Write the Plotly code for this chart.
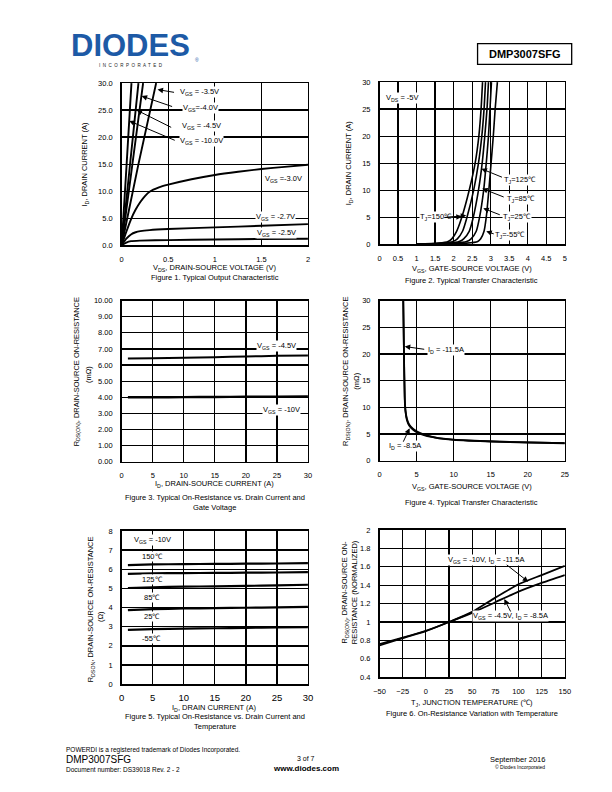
import plotly.graph_objects as go

W, H = 612, 792
FONT = "Liberation Sans, Arial, sans-serif"

# ---------------- Figure 1 data: Output characteristic ----------------
f1_vgs35_x = [0, 0.18, 0.37]
f1_vgs35_y = [0, 15, 30]
f1_vgs40_x = [0, 0.115, 0.23]
f1_vgs40_y = [0, 15, 30]
f1_vgs45_x = [0, 0.09, 0.18]
f1_vgs45_y = [0, 15, 30]
f1_vgs10_x = [0, 0.053, 0.105]
f1_vgs10_y = [0, 15, 30]
f1_vgs30_x = [0, 0.05, 0.1, 0.15, 0.2, 0.25, 0.3, 0.4, 0.5, 0.75, 1.0, 1.25, 1.5, 1.75, 2.0]
f1_vgs30_y = [0, 2.5, 4.8, 6.6, 8.0, 9.1, 9.9, 10.7, 11.2, 12.2, 13.0, 13.6, 14.1, 14.5, 14.9]
f1_vgs27_x = [0, 0.05, 0.1, 0.15, 0.2, 0.3, 0.5, 1.0, 1.5, 2.0]
f1_vgs27_y = [0, 1.2, 2.0, 2.4, 2.6, 2.8, 3.0, 3.3, 3.6, 3.9]
f1_vgs25_x = [0, 0.05, 0.1, 0.2, 0.5, 1.0, 1.5, 2.0]
f1_vgs25_y = [0, 0.5, 0.75, 0.85, 0.95, 1.05, 1.15, 1.2]

# ---------------- Figure 2 data: Transfer characteristic ----------------
f2_id = [0, 0.2, 0.5, 1, 2.4, 5, 10, 15, 20, 25, 30]
f2_vgs_150 = [1.0, 1.6, 1.85, 1.95, 2.08, 2.22, 2.42, 2.58, 2.68, 2.74, 2.78]
f2_vgs_125 = [1.0, 1.75, 1.98, 2.10, 2.24, 2.36, 2.54, 2.67, 2.76, 2.82, 2.86]
f2_vgs_85 = [1.0, 1.9, 2.15, 2.27, 2.42, 2.53, 2.67, 2.77, 2.84, 2.90, 2.94]
f2_vgs_25 = [1.0, 2.05, 2.35, 2.47, 2.61, 2.70, 2.81, 2.88, 2.94, 2.98, 3.02]
f2_vgs_m55 = [1.0, 2.35, 2.65, 2.73, 2.82, 2.88, 2.95, 3.01, 3.07, 3.12, 3.18]

# ---------------- Figure 3 data: Rds(on) vs ID and VGS ----------------
f3_id = [1, 5, 10, 15, 20, 25, 30]
f3_r45 = [6.40, 6.42, 6.45, 6.49, 6.53, 6.57, 6.60]
f3_r10 = [4.00, 4.00, 4.01, 4.02, 4.03, 4.04, 4.05]

# ---------------- Figure 4 data: Rds(on) vs VGS ----------------
f4_vgs = [3.2, 3.3, 3.4, 3.5, 3.7, 4.0, 4.5, 5, 6, 7, 8, 10, 12, 15, 20, 25]
f4_r115 = [30, 20, 12, 9.5, 7.8, 6.8, 6.0, 5.5, 4.9, 4.5, 4.25, 3.95, 3.8, 3.65, 3.45, 3.3]
f4_r85 = [30, 19.5, 11.5, 9.2, 7.6, 6.6, 5.85, 5.35, 4.8, 4.45, 4.2, 3.9, 3.75, 3.6, 3.42, 3.28]

# ---------------- Figure 5 data: Rds(on) vs ID and temperature ----------------
f5_id = [1, 5, 10, 15, 20, 25, 30]
f5_r150 = [6.22, 6.25, 6.27, 6.28, 6.29, 6.30, 6.32]
f5_r125 = [5.76, 5.79, 5.80, 5.81, 5.82, 5.83, 5.85]
f5_r85 = [5.02, 5.06, 5.09, 5.11, 5.13, 5.16, 5.19]
f5_r25 = [3.87, 3.92, 3.95, 3.97, 3.99, 4.01, 4.04]
f5_rm55 = [2.83, 2.87, 2.90, 2.92, 2.94, 2.96, 2.98]

# ---------------- Figure 6 data: normalized Rds(on) vs TJ ----------------
f6_tj = [-50, -25, 0, 25, 50, 75, 100, 125, 150]
f6_r10 = [0.76, 0.83, 0.905, 1.0, 1.11, 1.265, 1.41, 1.51, 1.61]
f6_r45 = [0.745, 0.825, 0.90, 1.0, 1.10, 1.215, 1.33, 1.425, 1.51]


def px(x):
    return x / W


def py(y):
    return 1 - y / H


fig = go.Figure()

LW = 1.9


def line(xs, ys, n, width=LW, shape="spline"):
    ax = "" if n == 1 else str(n)
    fig.add_trace(go.Scatter(x=xs, y=ys, mode="lines", xaxis="x" + ax, yaxis="y" + ax,
                             line=dict(color="black", width=width, shape=shape, smoothing=0.6),
                             showlegend=False, hoverinfo="skip"))


# Fig 1
line(f1_vgs35_x, f1_vgs35_y, 1)
line(f1_vgs40_x, f1_vgs40_y, 1)
line(f1_vgs45_x, f1_vgs45_y, 1)
line(f1_vgs10_x, f1_vgs10_y, 1)
line(f1_vgs30_x, f1_vgs30_y, 1)
line(f1_vgs27_x, f1_vgs27_y, 1)
line(f1_vgs25_x, f1_vgs25_y, 1)
# Fig 2
for v in [f2_vgs_150, f2_vgs_125, f2_vgs_85, f2_vgs_25, f2_vgs_m55]:
    line(v, f2_id, 2, width=1.6)
# Fig 3
line(f3_id, f3_r45, 3, width=2)
line(f3_id, f3_r10, 3, width=2.4)
# Fig 4
line(f4_vgs, f4_r115, 4, width=1.8)
line(f4_vgs, f4_r85, 4, width=1.8)
# Fig 5
for r in [f5_r150, f5_r125, f5_r85, f5_r25, f5_rm55]:
    line(f5_id, r, 5, width=2.2)
# Fig 6
line(f6_tj, f6_r10, 6, width=1.8)
line(f6_tj, f6_r45, 6, width=1.8)


def axis_common():
    return dict(showgrid=True, gridcolor="black", gridwidth=1.3, zeroline=False,
                showline=True, linecolor="black", linewidth=1.5, mirror=True,
                ticks="outside", ticklen=6, tickcolor="rgba(0,0,0,0)",
                tickfont=dict(family=FONT, size=7.5, color="black"), fixedrange=True)


def xa(l, r, rng, dtick, anchor, **kw):
    d = axis_common()
    d.update(domain=[px(l), px(r)], range=rng, dtick=dtick, tick0=rng[0], anchor=anchor)
    d.update(kw)
    return d


def ya(t, b, rng, dtick, anchor, **kw):
    d = axis_common()
    d.update(domain=[py(b), py(t)], range=rng, dtick=dtick, tick0=rng[0], anchor=anchor)
    d.update(kw)
    return d


fig.update_layout(
    width=W, height=H, margin=dict(l=0, r=0, t=0, b=0),
    paper_bgcolor="white", plot_bgcolor="white",
    xaxis=xa(118, 308, [0, 2], 0.5, "y"),
    yaxis=ya(80, 244, [0, 30], 5, "x", tickformat=".1f"),
    xaxis2=xa(381, 570, [0, 5], 0.5, "y2"),
    yaxis2=ya(79, 243, [0, 30], 5, "x2"),
    xaxis3=xa(118, 308, [0, 30], 5, "y3"),
    yaxis3=ya(300, 463, [0, 10], 1, "x3", tickformat=".2f"),
    xaxis4=xa(381, 570, [0, 25], 5, "y4"),
    yaxis4=ya(300, 462, [0, 30], 5, "x4"),
    xaxis5=xa(118, 308, [0, 30], 5, "y5", tickfont=dict(family=FONT, size=9.5, color="black"),
              ticklen=4),
    yaxis5=ya(533, 688, [0, 8], 1, "x5"),
    xaxis6=xa(381, 570, [-50, 150], 25, "y6"),
    yaxis6=ya(532, 681, [0.4, 2.0], 0.2, "x6"),
)

ann = []


def txt(x, y, s, size=7.5, xanchor="center", angle=0, bg=None, color="black", family=FONT):
    d = dict(x=px(x), y=py(y), xref="paper", yref="paper", text=s, showarrow=False,
             xanchor=xanchor, yanchor="middle", textangle=angle,
             font=dict(family=family, size=size, color=color), borderpad=0)
    if bg:
        d["bgcolor"] = bg
    ann.append(d)


def arrow(n, x, y, axp, ayp):
    ax = "" if n == 1 else str(n)
    ann.append(dict(x=x, y=y, xref="x" + ax, yref="y" + ax, ax=axp, ay=ayp, text="",
                    showarrow=True, arrowhead=2, arrowsize=1.1, arrowwidth=1, arrowcolor="black"))


# ---- Header ----
txt(127, 42, "<b>DIODES</b>", size=31, color="#1d5aa6")
txt(127, 62, "I  N  C  O  R  P  O  R  A  T  E  D", size=4.5, color="#222")
txt(192, 57, "®", size=5, color="#1d5aa6", xanchor="left")
fig.add_shape(type="rect", xref="paper", yref="paper", x0=px(481), x1=px(577), y0=py(61), y1=py(40),
              line=dict(color="black", width=1.3))
txt(529, 50.5, "<b>DMP3007SFG</b>", size=11)

# ---- Figure 1 ----
txt(176, 89, "V<sub>GS</sub> = -3.5V", xanchor="left", bg="white")
txt(180, 105, "V<sub>GS</sub>=-4.0V", xanchor="left", bg="white")
txt(178, 123, "V<sub>GS</sub> = -4.5V", xanchor="left", bg="white")
txt(176, 139, "V<sub>GS</sub> = -10.0V", xanchor="left", bg="white")
txt(263, 177, "V<sub>GS</sub> =-3.0V", xanchor="left", bg="white")
txt(254, 215, "V<sub>GS</sub> = -2.7V", xanchor="left", bg="white")
txt(255, 232, "V<sub>GS</sub> = -2.5V", xanchor="left", bg="white")
arrow(1, 0.385, 28.8, 18, 3)
arrow(1, 0.214, 27.6, 32, 11)
arrow(1, 0.161, 25.0, 36, 18)
arrow(1, 0.081, 23.0, 47, 20)
txt(213, 267, "V<sub>DS</sub>, DRAIN-SOURCE VOLTAGE (V)", size=7.5)
txt(213, 277, "Figure 1. Typical Output Characteristic", size=7.5)
txt(81, 162, "I<sub>D</sub>, DRAIN CURRENT (A)", angle=-90)

# ---- Figure 2 ----
txt(387, 95, "V<sub>DS</sub> = -5V", xanchor="left", bg="white")
txt(507, 178, "T<sub>J</sub>=125℃", xanchor="left", bg="white")
txt(510, 197, "T<sub>J</sub>=85℃", xanchor="left", bg="white")
txt(506, 215, "T<sub>J</sub>=25℃", xanchor="left", bg="white")
txt(498, 234, "T<sub>J</sub>=-55℃", xanchor="left", bg="white")
txt(421, 215, "T<sub>J</sub>=150℃", xanchor="left", bg="white")
arrow(2, 2.75, 13.96, 22, 9)
arrow(2, 2.77, 10.3, 23, 9)
arrow(2, 2.80, 6.64, 18, 7)
arrow(2, 2.88, 2.38, 9, 3)
arrow(2, 2.22, 5.1, -19, 1)
arrow(2, 2.34, 5.3, -23, 2)
txt(475, 268, "V<sub>GS</sub>, GATE-SOURCE VOLTAGE (V)")
txt(475, 280, "Figure 2. Typical Transfer Characteristic")
txt(350, 161, "I<sub>D</sub>, DRAIN CURRENT (A)", angle=-90)

# ---- Figure 3 ----
txt(255, 346, "V<sub>GS</sub> = -4.5V", xanchor="left", bg="white")
txt(261, 411, "V<sub>GS</sub> = -10V", xanchor="left", bg="white")
txt(213, 486, "I<sub>D</sub>, DRAIN-SOURCE CURRENT (A)")
txt(213, 499, "Figure 3. Typical On-Resistance vs. Drain Current and")
txt(213, 509, "Gate Voltage")
txt(72, 372, "R<sub>DS(ON)</sub>, DRAIN-SOURCE ON-RESISTANCE", angle=-90)
txt(84, 375, "(mΩ)", angle=-90)

# ---- Figure 4 ----
txt(429, 350, "I<sub>D</sub> = -11.5A", xanchor="left", bg="white")
txt(390, 447, "I<sub>D</sub> = -8.5A", xanchor="left", bg="white")
arrow(4, 3.4, 21.4, 21, 3)
arrow(4, 4.06, 6.1, -7, 15)
txt(475, 489, "V<sub>GS</sub>, GATE-SOURCE VOLTAGE (V)")
txt(475, 504, "Figure 4. Typical Transfer Characteristic")
txt(347, 372, "R<sub>DS(ON)</sub>, DRAIN-SOURCE ON-RESISTANCE", angle=-90)
txt(358, 381, "(mΩ)", angle=-90)

# ---- Figure 5 ----
txt(130, 542, "V<sub>GS</sub> = -10V", xanchor="left", bg="white")
txt(138, 559, "150℃", xanchor="left", bg="white")
txt(138, 582, "125℃", xanchor="left", bg="white")
txt(140, 600, "85℃", xanchor="left", bg="white")
txt(140, 620, "25℃", xanchor="left", bg="white")
txt(138, 642, "-55℃", xanchor="left", bg="white")
txt(213, 712, "I<sub>D</sub>, DRAIN CURRENT (A)")
txt(213, 721, "Figure 5. Typical On-Resistance vs. Drain Current and")
txt(213, 731, "Temperature")
txt(87, 612, "R<sub>DSON</sub>, DRAIN-SOURCE ON-RESISTANCE", angle=-90)
txt(97, 620, "(Ω)", angle=-90)

# ---- Figure 6 ----
txt(450, 562, "V<sub>GS</sub> = -10V, I<sub>D</sub> = -11.5A", xanchor="left", bg="white")
txt(475, 619, "V<sub>GS</sub> = -4.5V, I<sub>D</sub> = -8.5A", xanchor="left", bg="white")
arrow(6, 110.5, 1.438, -23, -18)
arrow(6, 84.7, 1.25, 7, 14)
txt(475, 707, "T<sub>J</sub>, JUNCTION TEMPERATURE (℃)")
txt(475, 718, "Figure 6. On-Resistance Variation with Temperature")
txt(346, 595, "R<sub>DS(ON)</sub>, DRAIN-SOURCE ON-", angle=-90)
txt(355, 595, "RESISTANCE (NORMALIZED)", angle=-90)

# ---- Footer ----
txt(60, 755, "POWERDI is a registered trademark of Diodes Incorporated.", size=6.5, xanchor="left")
txt(60, 764, "DMP3007SFG", size=10, xanchor="left")
txt(60, 774, "Document number: DS39018 Rev. 2 - 2", size=6.5, xanchor="left")
txt(306, 763, "3 of 7", size=7)
txt(306, 773, "<b>www.diodes.com</b>", size=8)
ann.append(dict(x=px(552), y=py(764), xref="paper", yref="paper", text="September 2016", showarrow=False,
                xanchor="right", yanchor="middle", font=dict(family=FONT, size=7.5, color="black")))
ann.append(dict(x=px(552), y=py(772), xref="paper", yref="paper", text="© Diodes Incorporated",
                showarrow=False, xanchor="right", yanchor="middle",
                font=dict(family=FONT, size=5, color="black")))

fig.update_layout(annotations=ann)
fig.write_html("out.html", config={"displayModeBar": False, "staticPlot": True},
               post_script="document.body.style.margin='0px';document.body.style.overflow='hidden';")
